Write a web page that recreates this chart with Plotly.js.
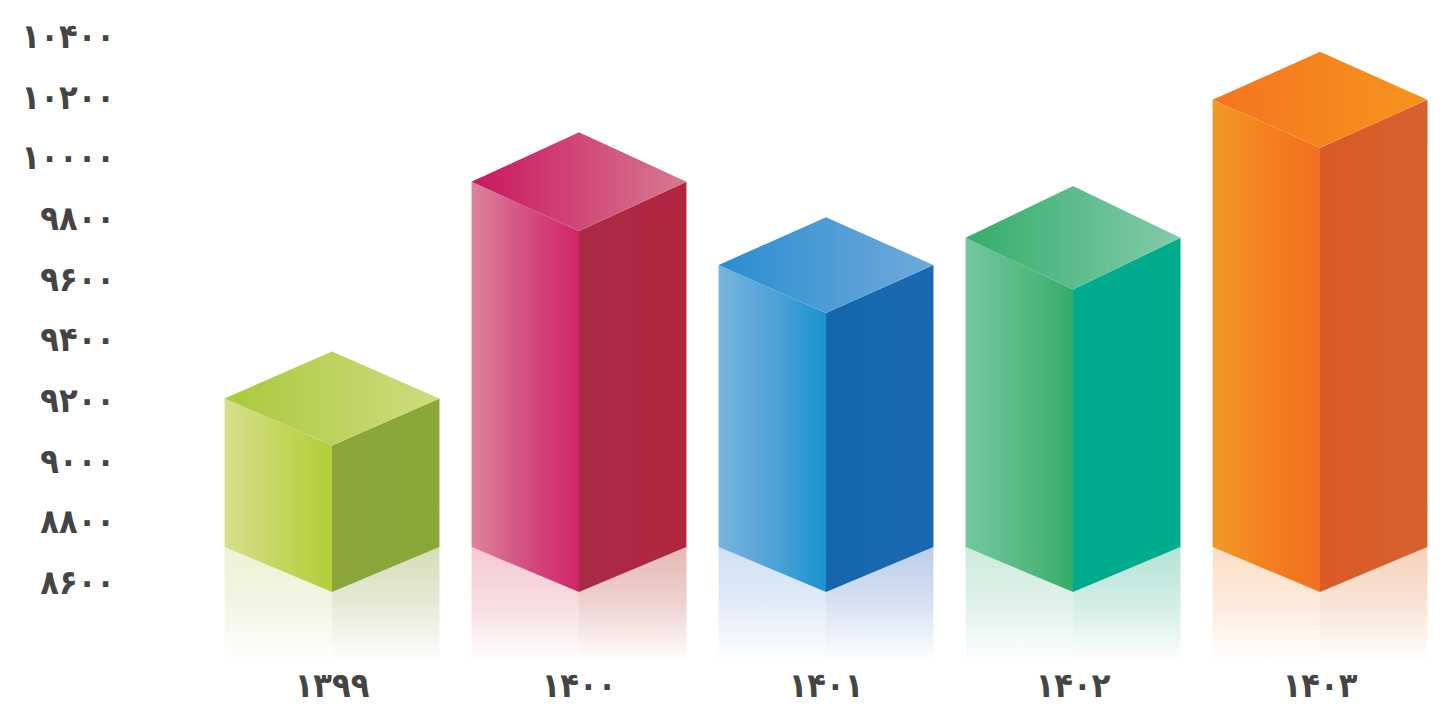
<!DOCTYPE html>
<html lang="fa">
<head>
<meta charset="utf-8">
<script src="https://cdn.plot.ly/plotly-3.0.1.min.js"></script>
<style>html,body{margin:0;padding:0;background:#fff}#chart{width:1446px;height:708px}</style>
</head>
<body>
<div id="chart"></div>
<script>
// Data
const years = ['۱۳۹۹', '۱۴۰۰', '۱۴۰۱', '۱۴۰۲', '۱۴۰۳'];
const values = [9205, 9920, 9645, 9735, 10190];
const yTickValues = [8600, 8800, 9000, 9200, 9400, 9600, 9800, 10000, 10200, 10400];
const yTickLabels = ['۸۶۰۰', '۸۸۰۰', '۹۰۰۰', '۹۲۰۰', '۹۴۰۰', '۹۶۰۰', '۹۸۰۰', '۱۰۰۰۰', '۱۰۲۰۰', '۱۰۴۰۰'];

// Styles
const frontColors = [['#d6df8c','#c4d65e','#b2ce38'],['#dc849c','#d44f80','#d1246a'],['#78b4de','#4fa3d6','#1a93cf'],['#74c8a0','#58ba84','#35ac68'],['#f09a26','#f4801f','#f16f22']];
const sideColors = [['#8ba53c','#88a838'],['#a92b46','#b2253f'],['#1566ae','#1a69b0'],['#00ab8e','#00ac8c'],['#d95a27','#d66230']];
const topColors = [['#a9c93c','#d0db80'],['#c9165e','#d87a92'],['#2a8dcf','#70aadb'],['#34ad6c','#84cbaa'],['#f37520','#f7941d']];
const reflectLeft = [['#eef2d4','#f3f5e4'],['#f5c9d3','#f7dde1'],['#cfe0f4','#e2ecf8'],['#cdeadd','#e0f2ea'],['#fddfc5','#fdebdb']];
const reflectRight = [['#d5dcb8','#e6ead6'],['#e6b8b4','#efd3d0'],['#bccdea','#d8e2f3'],['#b5e2d6','#d3eee7'],['#f6d2bb','#f9e4d6']];

// Box geometry in axis units
const halfWidth = 0.435;
const topDepth = [155, 163, 158, 171, 158];
const baseSide = 8715;
const baseFront = 8567;
const axisBottom = 8336;

function face(xs, ys, type, colors, start, stop) {
  const n = colors.length - 1;
  return {
    type: 'scatter', mode: 'lines', x: xs.concat(xs[0]), y: ys.concat(ys[0]),
    line: {width: 0}, fill: 'toself', hoverinfo: 'skip', showlegend: false,
    fillcolor: colors[0],
    fillgradient: {type: type, start: start, stop: stop,
      colorscale: colors.map((c, k) => [k / n, c])}
  };
}

const traces = [];
values.forEach((v, i) => {
  const L = i - halfWidth, R = i + halfWidth, depth = topDepth[i];
  traces.push(face([L, i, i, L], [baseSide, baseFront, axisBottom, axisBottom], 'vertical',
    reflectLeft[i].concat('#ffffff'), baseSide, axisBottom));
  traces.push(face([i, R, R, i], [baseFront, baseSide, axisBottom, axisBottom], 'vertical',
    reflectRight[i].concat('#ffffff'), baseSide, axisBottom));
  traces.push(face([L, i, i, L], [v, v - depth, baseFront, baseSide], 'horizontal', frontColors[i], L, i));
  traces.push(face([i, R, R, i], [v - depth, v, baseSide, baseFront], 'horizontal', sideColors[i], i, R));
  traces.push(face([L, i, R, i], [v, v + depth, v, v - depth], 'horizontal', topColors[i], L, R));
});

const tickFont = {family: '"DejaVu Sans Condensed","DejaVu Sans",sans-serif', size: 34, color: '#444444', weight: 'bold'};
const layout = {
  width: 1446, height: 708,
  margin: {l: 116, r: 0, t: 0, b: 46, pad: 0},
  paper_bgcolor: '#ffffff', plot_bgcolor: '#ffffff',
  showlegend: false,
  xaxis: {range: [-0.8745, 4.51], tickmode: 'array', tickvals: years.map((_, i) => i), ticktext: years,
    showgrid: false, zeroline: false, showline: false, ticks: '', tickfont: tickFont, fixedrange: true},
  yaxis: {range: [axisBottom, 10519], tickmode: 'array', tickvals: yTickValues, ticktext: yTickLabels,
    showgrid: false, zeroline: false, showline: false, ticks: '', tickfont: tickFont, fixedrange: true}
};
Plotly.newPlot('chart', traces, layout, {displayModeBar: false, staticPlot: true});
</script>
</body>
</html>
